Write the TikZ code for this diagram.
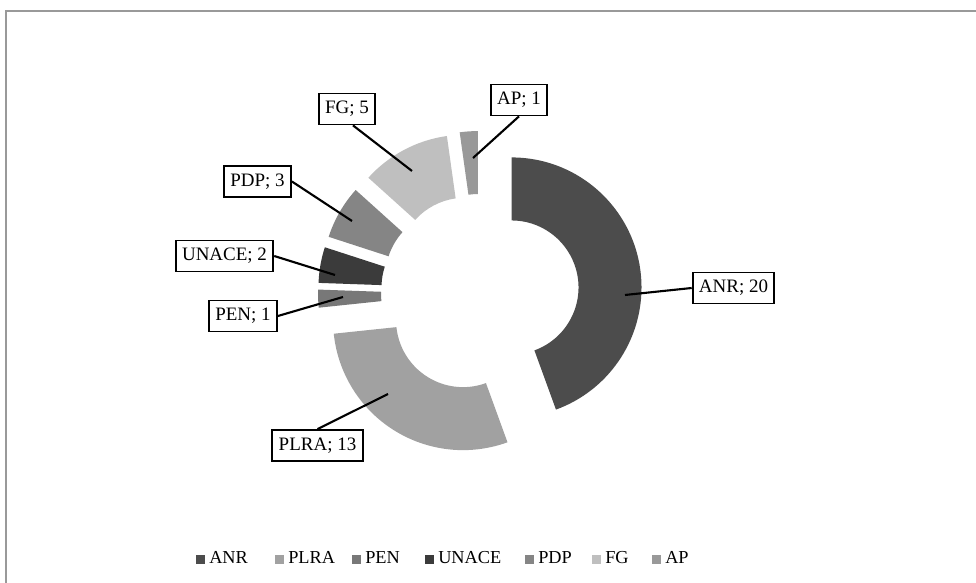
\documentclass[tikz,border=0pt]{standalone}
\usepackage{fontspec}
\setmainfont{Liberation Serif}
\usepackage{xcolor}
\usepackage{tikz}

\definecolor{anrc}{gray}{0.30}
\definecolor{plrac}{gray}{0.63}
\definecolor{penc}{gray}{0.47}
\definecolor{unacec}{gray}{0.23}
\definecolor{pdpc}{gray}{0.52}
\definecolor{fgc}{gray}{0.75}
\definecolor{apc}{gray}{0.60}

\begin{document}
\begin{tikzpicture}[x=0.025cm,y=0.025cm,
		lbl/.style={draw,line width=1.3pt,fill=white,font=\fontsize{13.5}{16}\selectfont,inner xsep=4.5pt,minimum height=22pt},
		ldr/.style={line width=1.5pt},
		leg/.style={font=\fontsize{13}{15}\selectfont,inner sep=0pt}]
			\useasboundingbox (0,0) rectangle (976,583);
			\draw[line width=1.5pt,black!40] (6,0) -- (6,572) -- (976,572);
			\begin{scope}[shift={(480,290)}]
				\foreach \a/\b/\c in {90/-70/anrc,-70/-174/plrac,-174/-182/penc,-182/-198/unacec,-198/-222/pdpc,-222/-262/fgc,-262/-270/apc} {
					\fill[\c,shift={({(\a+\b)/2}:32)}] (\a:130) arc[start angle=\a,end angle=\b,radius=130]
						-- (\b:67) arc[start angle=\b,end angle=\a,radius=67] -- cycle;
				}
			\end{scope}
			\coordinate (anr-pt) at (625,288);
			\coordinate (plra-pt) at (388,189);
			\coordinate (pen-pt) at (343,286);
			\coordinate (unace-pt) at (335,308);
			\coordinate (pdp-pt) at (352,362);
			\coordinate (fg-pt) at (412,412);
			\coordinate (ap-pt) at (473,425);
			\node[lbl] (anr-lbl) at (733.5,295) {ANR; 20};
			\node[lbl] (plra-lbl) at (317.5,137.5) {PLRA; 13};
			\node[lbl] (pen-lbl) at (243,267) {PEN; 1};
			\node[lbl] (unace-lbl) at (224.5,327) {UNACE; 2};
			\node[lbl] (pdp-lbl) at (257.5,401.5) {PDP; 3};
			\node[lbl] (fg-lbl) at (347,474) {FG; 5};
			\node[lbl] (ap-lbl) at (519,483) {AP; 1};
			\draw[ldr] (anr-pt) -- (anr-lbl.west);
			\draw[ldr] (plra-pt) -- (plra-lbl.north);
			\draw[ldr] (pen-pt) -- (pen-lbl.east);
			\draw[ldr] (unace-pt) -- (unace-lbl.east);
			\draw[ldr] (pdp-pt) -- (pdp-lbl.east);
			\draw[ldr] (fg-pt) -- (fg-lbl.290);
			\draw[ldr] (ap-pt) -- (ap-lbl.south);
			\foreach \n/\x/\c [count=\i] in {ANR/209/anrc,PLRA/288/plrac,PEN/365/penc,UNACE/438/unacec,PDP/538/pdpc,FG/605/fgc,AP/665/apc} {
				\fill[\c] (\x-13,19) rectangle ++(9,9);
				\node[leg,anchor=base west] (leg-\i) at (\x,19) {\n};
			}
		\end{tikzpicture}
\end{document}
